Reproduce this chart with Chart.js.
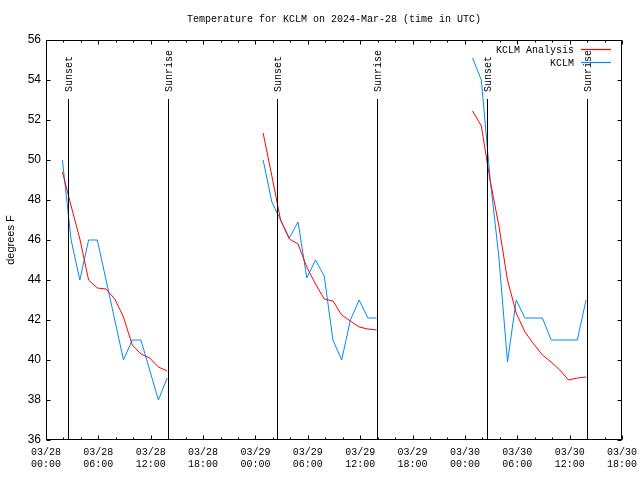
<!DOCTYPE html>
<html>
<head>
<meta charset="utf-8">
<script src="https://cdn.jsdelivr.net/npm/chart.js@4/dist/chart.umd.min.js"></script>
<style>
html,body{margin:0;padding:0;background:#fff;}
#wrap{width:640px;height:480px;}
</style>
</head>
<body>
<div id="wrap"><canvas id="c" width="640" height="480"></canvas></div>
<script>
// ---- data (hours since 2024-03-28 00:00 UTC) ----
const hoursN1 = [1.88, 2.88, 3.88, 4.88, 5.88, 6.88, 7.88, 8.88, 9.88, 10.88, 11.88, 12.88, 13.88];
const hoursN2 = [24.88, 25.88, 26.88, 27.88, 28.88, 29.88, 30.88, 31.88, 32.88, 33.88, 34.88, 35.88, 36.88, 37.88];
const hoursN3 = [48.88, 49.88, 50.88, 51.88, 52.88, 53.88, 54.88, 55.88, 56.88, 57.88, 58.88, 59.88, 60.88, 61.88];

const obsN1 = [50, 46, 44, 46, 46, 44, 42, 40, 41, 41, 39.5, 38, 39.1];
const obsN2 = [50, 47.9, 47, 46.1, 46.9, 44.1, 45, 44.2, 41, 40, 42, 43, 42.1, 42.1];
const obsN3 = [55.1, 54.0, 49.1, 45.2, 39.9, 43.0, 42.1, 42.1, 42.1, 41.0, 41.0, 41.0, 41.0, 43.0];

const anaN1 = [49.4, 47.7, 46.05, 44.0, 43.6, 43.55, 43.05, 42.15, 40.75, 40.3, 40.1, 39.65, 39.45];
const anaN2 = [51.35, 49.2, 47.0, 46.05, 45.8, 44.65, 43.8, 43.05, 42.95, 42.25, 41.95, 41.65, 41.55, 41.5];
const anaN3 = [52.45, 51.7, 49.0, 46.75, 44.0, 42.35, 41.4, 40.8, 40.25, 39.9, 39.5, 39.0, 39.1, 39.15];

const sunsetHours = [2.52, 26.47, 50.57];
const sunriseHours = [13.98, 37.93, 61.96];

const seriesNames = ["KCLM Analysis", "KCLM"];
const seriesColors = ["#ff0000", "#0088ff"];
const titleText = "Temperature for KCLM on 2024-Mar-28 (time in UTC)";
const yTitle = "degrees F";
const dayLabels = ["03/28", "03/29", "03/30", "03/31"];

function joinNights(hoursList, valuesList) {
  const out = [];
  hoursList.forEach((hrs, n) => {
    if (n > 0) out.push({x: (hoursList[n-1][hoursList[n-1].length-1] + hrs[0]) / 2, y: null});
    hrs.forEach((h, i) => out.push({x: h, y: valuesList[n][i]}));
  });
  return out;
}

const MONO = "'Liberation Mono', 'DejaVu Sans Mono', monospace";
const SANS = "'Liberation Sans', Arial, sans-serif";

const framePlugin = {
  id: 'frame',
  afterDatasetsDraw(chart) {
    const ctx = chart.ctx, a = chart.chartArea;
    const xs = chart.scales.x, ys = chart.scales.y;
    ctx.save();
    ctx.strokeStyle = '#000';
    ctx.lineWidth = 1;
    ctx.font = '10px ' + MONO;
    ctx.fillStyle = '#000';
    const drawSun = (h, label) => {
      const px = Math.round(xs.getPixelForValue(h)) + 0.5;
      ctx.strokeStyle = '#000';
      ctx.beginPath();
      ctx.moveTo(px, a.top + 59);
      ctx.lineTo(px, a.bottom);
      ctx.stroke();
      ctx.save();
      ctx.translate(px + 1, a.top + 52);
      ctx.rotate(-Math.PI / 2);
      ctx.textAlign = 'left';
      ctx.textBaseline = 'middle';
      ctx.fillText(label, 0, 0);
      ctx.restore();
    };
    sunsetHours.forEach(h => drawSun(h, 'Sunset'));
    sunriseHours.forEach(h => drawSun(h, 'Sunrise'));
    ctx.strokeStyle = '#000';
    const L = Math.round(a.left) + 0.5, R = Math.round(a.right) - 0.5;
    const T = Math.round(a.top) + 0.5, B = Math.round(a.bottom) - 0.5;
    ctx.strokeRect(L, T, R - L, B - T);
    ctx.beginPath();
    xs.ticks.forEach(t => {
      const px = Math.round(xs.getPixelForValue(t.value)) + 0.5;
      const len = (t.value % 6 === 0) ? 4 : 2;
      ctx.moveTo(px, B); ctx.lineTo(px, B - len);
      ctx.moveTo(px, T); ctx.lineTo(px, T + len);
    });
    ys.ticks.forEach(t => {
      const py = Math.round(ys.getPixelForValue(t.value)) + 0.5;
      ctx.moveTo(L, py); ctx.lineTo(L + 4, py);
      ctx.moveTo(R, py); ctx.lineTo(R - 4, py);
    });
    ctx.stroke();
    ctx.font = '10px ' + MONO;
    ctx.textAlign = 'right';
    ctx.textBaseline = 'middle';
    seriesNames.forEach((name, i) => {
      const y = Math.round(a.top + 10 + i * 13);
      ctx.fillStyle = '#000';
      ctx.fillText(name, a.left + 528, y);
      ctx.strokeStyle = seriesColors[i];
      ctx.lineWidth = 1.2;
      ctx.beginPath();
      ctx.moveTo(a.left + 535, y - 0.5);
      ctx.lineTo(a.left + 565, y - 0.5);
      ctx.stroke();
    });
    ctx.restore();
  }
};

new Chart(document.getElementById('c'), {
  type: 'line',
  data: {
    datasets: [
      {
        label: seriesNames[0],
        data: joinNights([hoursN1, hoursN2, hoursN3], [anaN1, anaN2, anaN3]),
        borderColor: seriesColors[0],
        borderWidth: 1,
        pointRadius: 0,
        tension: 0,
        spanGaps: false,
        fill: false
      },
      {
        label: seriesNames[1],
        data: joinNights([hoursN1, hoursN2, hoursN3], [obsN1, obsN2, obsN3]),
        borderColor: seriesColors[1],
        borderWidth: 1,
        pointRadius: 0,
        tension: 0,
        spanGaps: false,
        fill: false
      }
    ]
  },
  options: {
    responsive: false,
    animation: false,
    devicePixelRatio: 1,
    layout: {padding: {left: 0, right: 18, top: 0, bottom: 0}},
    plugins: {
      legend: {display: false},
      tooltip: {enabled: false},
      title: {
        display: true,
        text: titleText,
        fullSize: false,
        color: '#000',
        font: {family: MONO, size: 10, weight: 'normal', lineHeight: 1.2},
        padding: {top: 13, bottom: 15}
      }
    },
    scales: {
      x: {
        type: 'linear',
        min: 0,
        max: 66,
        afterFit(s) { s.height = 40; s.paddingLeft = 0; s.paddingRight = 0; },
        grid: {display: false, drawTicks: false},
        border: {display: false},
        ticks: {
          stepSize: 2,
          autoSkip: false,
          maxRotation: 0,
          padding: 6,
          color: '#000',
          font: {family: MONO, size: 10, lineHeight: 1.25},
          callback(v) {
            if (v % 6 !== 0) return '';
            const day = dayLabels[Math.floor(v / 24)];
            const hr = v % 24;
            return [day, (hr < 10 ? '0' : '') + hr + ':00'];
          }
        }
      },
      y: {
        min: 36,
        max: 56,
        afterFit(s) { s.width = 46; s.paddingTop = 0; s.paddingBottom = 0; },
        grid: {display: false, drawTicks: false},
        border: {display: false},
        title: {
          display: true,
          text: yTitle,
          color: '#000',
          font: {family: SANS, size: 11, lineHeight: 1.2},
          padding: {top: 4, bottom: 0}
        },
        ticks: {
          stepSize: 2,
          padding: 5,
          color: '#000',
          font: {family: SANS, size: 12}
        }
      }
    }
  },
  plugins: [framePlugin]
});
</script>
</body>
</html>
